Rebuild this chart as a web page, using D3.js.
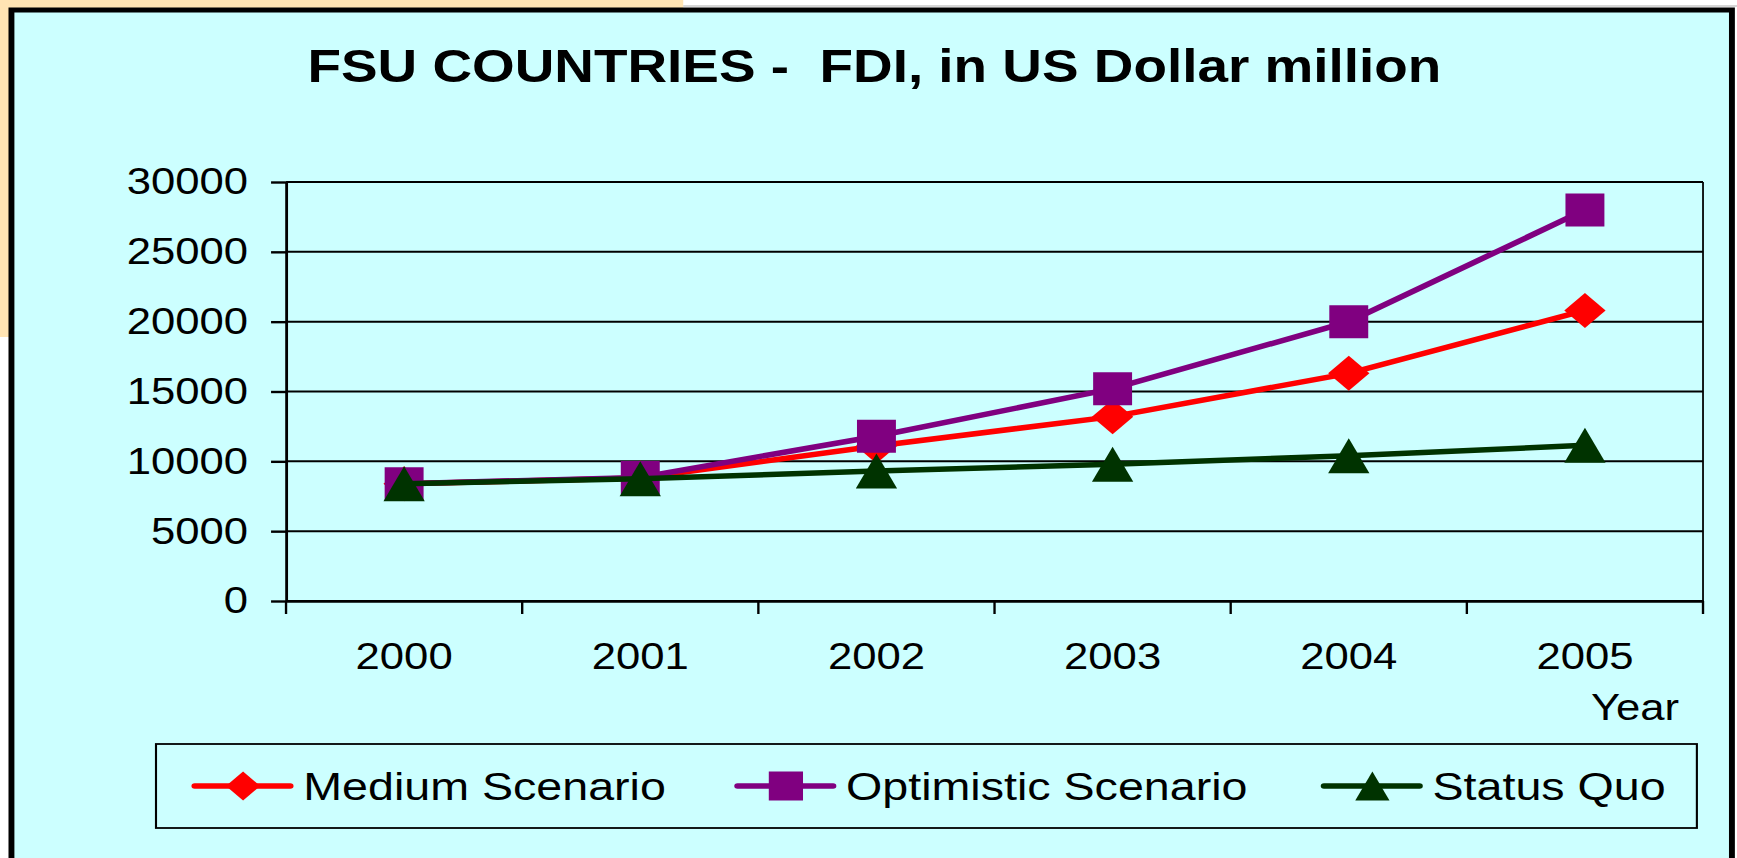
<!DOCTYPE html>
<html>
<head>
<meta charset="utf-8">
<script src="https://cdn.jsdelivr.net/npm/d3@7"></script>
<style>
  body { margin: 0; background: #fff; }
  svg { display: block; }
  text { font-family: "Liberation Sans", Arial, sans-serif; fill: #000; }
</style>
</head>
<body>
<script>
// data
const years = ['2000', '2001', '2002', '2003', '2004', '2005']
const medium = [8400, 8800, 11100, 13200, 16300, 20800]
const optimistic = [8400, 8850, 11800, 15200, 20000, 28000]
const statusQuo = [8400, 8750, 9300, 9800, 10400, 11150]
const yTicks = [0, 5000, 10000, 15000, 20000, 25000, 30000]
const seriesNames = ['Medium Scenario', 'Optimistic Scenario', 'Status Quo']

const series = [
  {name: seriesNames[0], values: medium, color: '#ff0000', shape: 'diamond'},
  {name: seriesNames[1], values: optimistic, color: '#800080', shape: 'square'},
  {name: seriesNames[2], values: statusQuo, color: '#003300', shape: 'triangle'}
]

// the original slide is stretched sideways, so draw in a narrower box and let the viewBox stretch it
const W = 1472, H = 858
const svg = d3.select('body').append('svg')
  .attr('width', 1737).attr('height', 858)
  .attr('viewBox', `0 0 ${W} ${H}`)
  .attr('preserveAspectRatio', 'none')

// slide background bits
svg.append('rect').attr('width', W).attr('height', H).attr('fill', '#fff')
svg.append('rect').attr('x', -40).attr('y', -40).attr('width', 619).attr('height', 377)
  .attr('rx', 40).attr('fill', '#ffe4b3')
svg.append('line').attr('x1', 579).attr('x2', W).attr('y1', 6).attr('y2', 6)
  .attr('stroke', '#c8c8c8').attr('stroke-width', 1.5)

// chart frame
svg.append('rect')
  .attr('x', 9.7).attr('y', 10).attr('width', 1458).attr('height', 900)
  .attr('fill', '#ccffff').attr('stroke', '#000').attr('stroke-width', 5)

svg.append('text')
  .attr('x', 741).attr('y', 82)
  .attr('text-anchor', 'middle')
  .style('white-space', 'pre')
  .style('font-size', '46.5px').style('font-weight', 'bold')
  .text('FSU COUNTRIES -  FDI, in US Dollar million')

// scales
const x = d3.scaleBand().domain(years).range([242.4, 1443.2]).padding(0)
const y = d3.scaleLinear().domain([0, 30000]).range([601, 182])
const cx = i => x(years[i]) + x.bandwidth() / 2

// gridlines
svg.append('g').selectAll('line')
  .data(yTicks)
  .enter().append('line')
  .attr('x1', x.range()[0]).attr('x2', x.range()[1])
  .attr('y1', d => y(d)).attr('y2', d => y(d))
  .attr('stroke', '#000').attr('stroke-width', 2)
svg.append('line')
  .attr('x1', x.range()[1]).attr('x2', x.range()[1])
  .attr('y1', y(30000)).attr('y2', y(0))
  .attr('stroke', '#000').attr('stroke-width', 1.5)

// y axis
const yAxis = svg.append('g')
  .attr('transform', `translate(${x.range()[0]},0)`)
  .call(d3.axisLeft(y).tickValues(yTicks).tickSize(12.7).tickSizeOuter(0).tickPadding(19.5).tickFormat(d => d))
yAxis.selectAll('line, path').attr('stroke', '#000').attr('stroke-width', 2.4)
yAxis.selectAll('text').style('font-size', '37px').attr('fill', '#000').attr('font-family', null)

// x axis
const xAxis = svg.append('g')
  .attr('transform', `translate(0,${y(0)})`)
  .call(d3.axisBottom(x).tickSize(0).tickSizeOuter(0).tickPadding(42))
xAxis.select('path').attr('stroke', '#000').attr('stroke-width', 2.4)
xAxis.selectAll('text').style('font-size', '37px').attr('fill', '#000').attr('font-family', null)
const bounds = years.map(d => x(d)).concat([x.range()[1]])
svg.append('g').selectAll('line')
  .data(bounds)
  .enter().append('line')
  .attr('x1', d => d).attr('x2', d => d)
  .attr('y1', y(0)).attr('y2', y(0) + 13)
  .attr('stroke', '#000').attr('stroke-width', 2)

svg.append('text')
  .attr('x', 1423).attr('y', 720)
  .attr('text-anchor', 'end')
  .style('font-size', '37px')
  .text('Year')

// marker shapes
function shape(type, s) {
  const h = s / 2
  if (type === 'square') return `M${-h},${-h}H${h}V${h}H${-h}Z`
  if (type === 'diamond') return `M0,${-h}L${h},0L0,${h}L${-h},0Z`
  return `M0,${-h}L${h},${h}L${-h},${h}Z`
}
const markerSize = {square: 33, diamond: 35, triangle: 35}

const line = d3.line().x((d, i) => cx(i)).y(d => y(d))

series.forEach(s => {
  const g = svg.append('g')
  g.append('path')
    .attr('d', line(s.values))
    .attr('fill', 'none')
    .attr('stroke', s.color)
    .attr('stroke-width', 5.5)
  g.selectAll('.marker')
    .data(s.values)
    .enter().append('path')
    .attr('class', 'marker')
    .attr('transform', (d, i) => `translate(${cx(i)},${y(d)})`)
    .attr('d', shape(s.shape, markerSize[s.shape]))
    .attr('fill', s.color)
})

// legend
svg.append('rect')
  .attr('x', 132.2).attr('y', 744).attr('width', 1305.8).attr('height', 84)
  .attr('fill', 'none').attr('stroke', '#000').attr('stroke-width', 1.8)
const legendX = [165, 625, 1122]
const legend = svg.append('g').selectAll('g')
  .data(series)
  .enter().append('g')
  .attr('transform', (d, i) => `translate(${legendX[i]},786)`)
legend.append('line')
  .attr('x1', 0).attr('x2', 81)
  .attr('stroke', d => d.color).attr('stroke-width', 5.5).attr('stroke-linecap', 'round')
legend.append('path')
  .attr('transform', 'translate(41,0)')
  .attr('d', d => shape(d.shape, 29))
  .attr('fill', d => d.color)
legend.append('text')
  .attr('x', 92).attr('y', 14)
  .style('font-size', '39.5px')
  .text(d => d.name)
</script>
</body>
</html>
